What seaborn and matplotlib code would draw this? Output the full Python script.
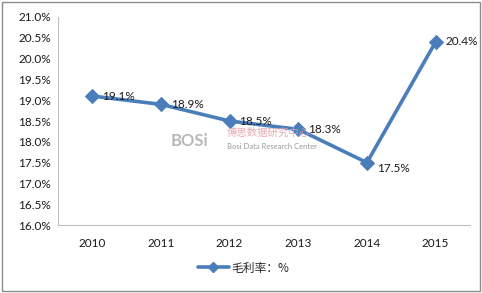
import matplotlib
matplotlib.use("Agg")
import matplotlib.pyplot as plt
import seaborn as sns
import pandas as pd
from matplotlib.ticker import FuncFormatter, MultipleLocator
from matplotlib.patches import Rectangle
from matplotlib.lines import Line2D

years = ["2010", "2011", "2012", "2013", "2014", "2015"]
margin = [19.1, 18.9, 18.5, 18.3, 17.5, 20.4]
series_name = "毛利率：%"

sns.set_theme(style="white")
plt.rcParams["font.family"] = ["Lato", "Noto Sans CJK SC", "DejaVu Sans"]

df = pd.DataFrame({"year": years, "value": margin})

fig = plt.figure(figsize=(4.82, 2.93), dpi=100)
ax = fig.add_axes([0.120, 0.232, 0.855, 0.710])

color = "#4A7EBB"
sns.lineplot(data=df, x="year", y="value", ax=ax, color=color, linewidth=2.6,
             marker="D", markersize=7, markeredgecolor=color, label=series_name,
             legend=False, sort=False)

for i, (y, v) in enumerate(zip(years, margin)):
    dy = -4 if i == 4 else 0
    ax.annotate(f"{v:.1f}%", (i, v), xytext=(7, dy), textcoords="offset points",
                ha="left", va="center", fontsize=8.5, color="#1A1A1A")

ax.set_ylim(16.0, 21.0)
ax.set_xlim(-0.5, 5.5)
ax.yaxis.set_major_locator(MultipleLocator(0.5))
ax.yaxis.set_major_formatter(FuncFormatter(lambda v, p: f"{v:.1f}%"))
ax.set_xlabel("")
ax.set_ylabel("")
ax.tick_params(axis="both", labelsize=8.5, colors="#1A1A1A", length=0, pad=5)
ax.tick_params(axis="x", pad=9)
for s in ["top", "right"]:
    ax.spines[s].set_visible(False)
for s in ["left", "bottom"]:
    ax.spines[s].set_color("#BFBFBF")
    ax.spines[s].set_linewidth(0.8)

# watermark
fig.text(0.355, 0.50, "BOSi", fontsize=12, color="#B8B8B8", fontweight="bold")
fig.text(0.47, 0.535, "博思数据研究中心", fontsize=7.5, color="#E8A0A8",
         family=["Noto Sans CJK SC"], alpha=0.9)
fig.text(0.47, 0.49, "Bosi Data Research Center", fontsize=5.5, color="#999999")

h = Line2D([0], [0], color=color, linewidth=2.6, marker="D", markersize=5)
fig.legend([h], [series_name], loc="center", bbox_to_anchor=(0.505, 0.085),
           frameon=False, handlelength=2.6, handletextpad=0.2,
           prop={"family": ["Noto Sans CJK SC"], "size": 8.5})

fig.patches.append(Rectangle((0.004, 0.006), 0.992, 0.988, transform=fig.transFigure,
                             fill=False, edgecolor="#8C8C8C", linewidth=1.0))

fig.savefig("out.png", dpi=100)
